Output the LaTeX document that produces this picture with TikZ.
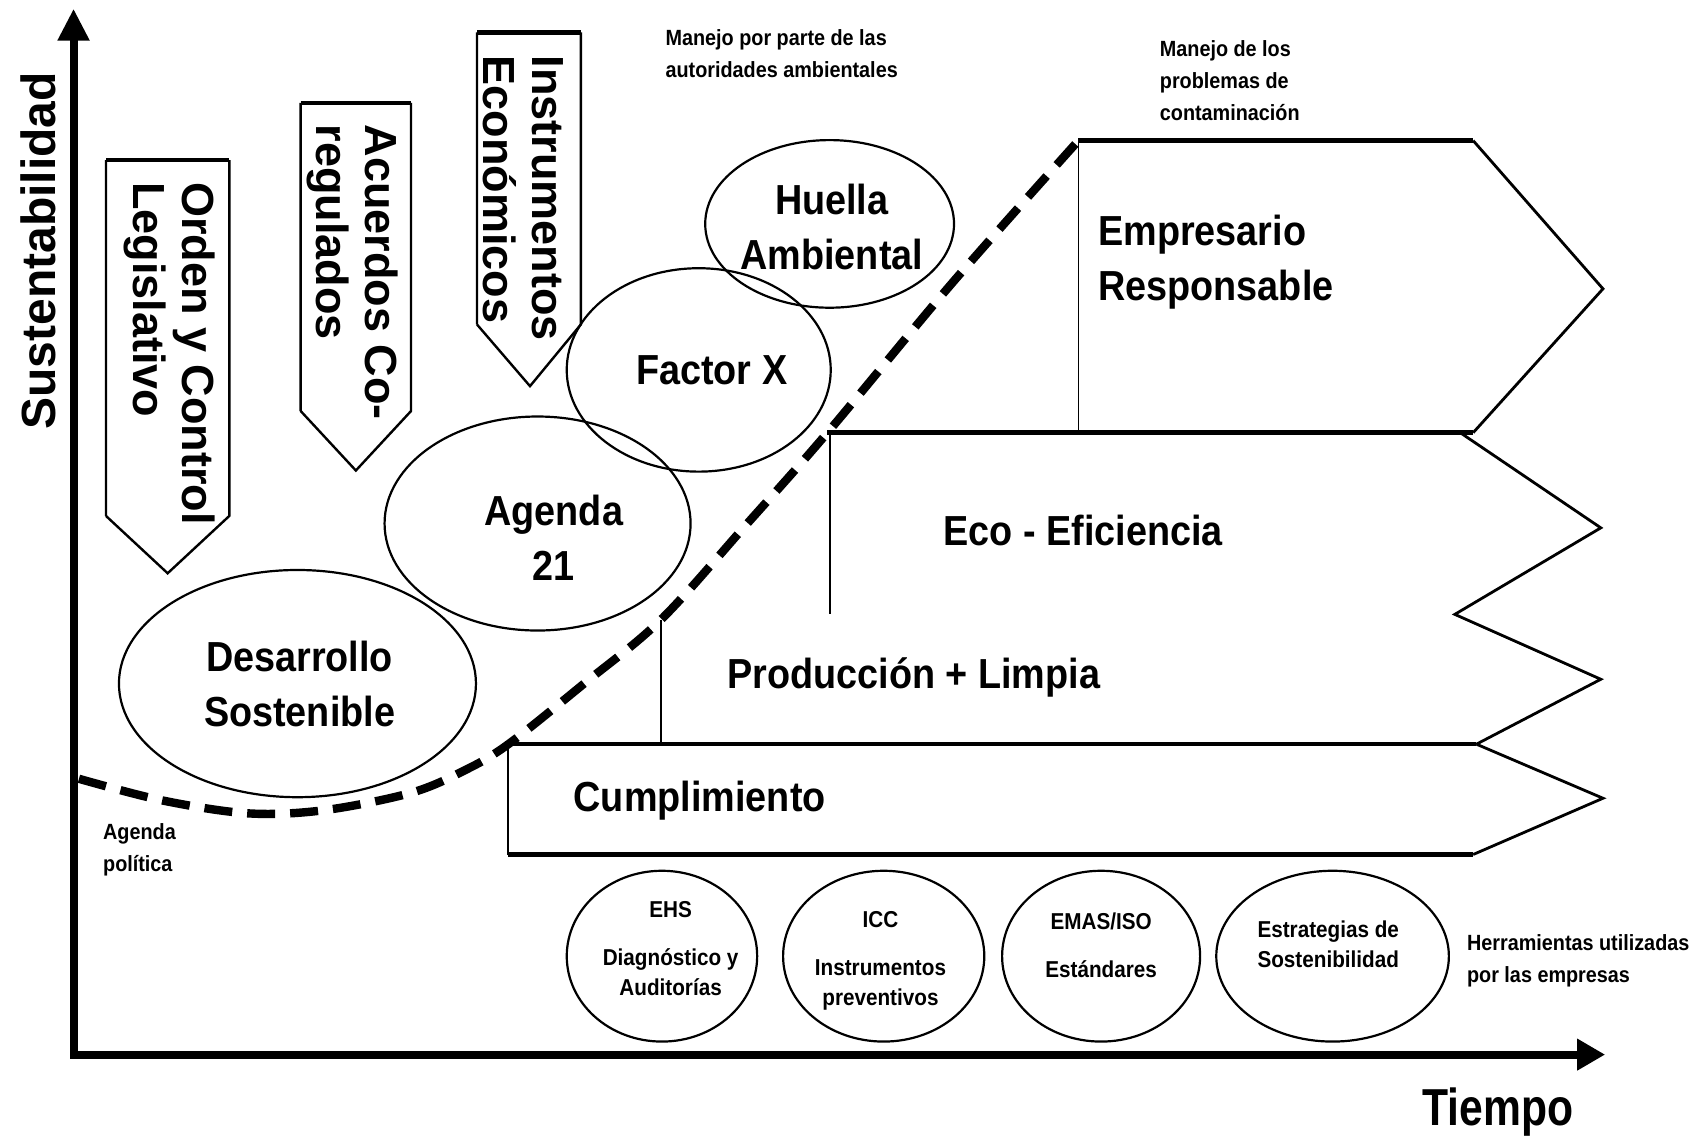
\documentclass[tikz,border=0pt]{standalone}
\usepackage{fontspec}
\setmainfont{Liberation Sans}[FakeStretch=0.9]
\newfontfamily\uprightfont{Liberation Sans}
\newfontfamily\narrowfont{Liberation Sans}[FakeStretch=0.82]
\usetikzlibrary{arrows.meta,shapes.geometric}
\begin{document}
\begin{tikzpicture}[x=0.5408pt, y=-0.5408pt, line join=miter,
  axis/.style={line width=4pt, {Triangle[length=16pt,width=15pt]}-{Triangle[length=14pt,width=15pt]}},
  bubble/.style={draw, ellipse, line width=1.1pt, inner sep=0pt},
  bigtext/.style={inner sep=0pt, align=center, font=\fontsize{21}{27.6}\selectfont\bfseries},
  bandtext/.style={bigtext, anchor=west, align=left},
  flagtext/.style={inner sep=0pt, rotate=-90, anchor=west, align=left, font=\uprightfont\fontsize{22.5}{24.3}\selectfont\bfseries},
  tooltext/.style={inner sep=0pt, align=center, font=\fontsize{11.5}{15}\selectfont\bfseries},
  smalltext/.style={inner sep=0pt, anchor=west, align=left, font=\fontsize{11}{16}\selectfont\bfseries},
  bandtop/.style={line width=2.2pt},
  bandtip/.style={line width=1.4pt},
  bandside/.style={line width=0.9pt},
  flag/.style={line width=1.2pt},
  policy/.style={line width=4.2pt, dash pattern=on 14pt off 7.5pt}]
\useasboundingbox (0,0) rectangle (1568,1051);

\coordinate (origin) at (68,975);
\coordinate (ytop) at (68,8);
\coordinate (xend) at (1484,975);
\draw[axis] (ytop) -- (origin) -- (xend);
\node[inner sep=0pt, rotate=90, font=\uprightfont\fontsize{24}{26}\selectfont\bfseries] (ylab) at (35,232) {Sustentabilidad};
\node[inner sep=0pt, font=\narrowfont\fontsize{26}{30}\selectfont\bfseries] (xlab) at (1385,1028) {Tiempo};

% banderas
\draw[flag] (98,477) -- (98,148) (212,148) -- (212,477) -- (155,530) -- (98,477);
\draw[bandtop] (98,148) -- (212,148);
\node[flagtext] (orden) at (157,168) {Orden y Control\\Legislativo};
\draw[flag] (278,380) -- (278,95) (380,95) -- (380,380) -- (329,435) -- (278,380);
\draw[bandtop] (278,95) -- (380,95);
\node[flagtext] (acuerdos) at (326,115) {Acuerdos Co-\\regulados};
\draw[flag] (441,300) -- (441,30) (537,30) -- (537,300) -- (490,357) -- (441,300);
\draw[bandtop] (441,30) -- (537,30);
\node[flagtext] (instrumentos) at (484,51) {Instrumentos\\Económicos};

% elipses
\node[bubble, minimum width=178.5pt, minimum height=113.6pt] (desarrollo) at (275,632) {};
\node[bigtext] (desarrollotxt) at (277,632) {Desarrollo\\Sostenible};
\node[bubble, minimum width=153pt, minimum height=107pt] (agenda) at (497,484) {};
\node[bigtext] (agendatxt) at (512,497) {Agenda\\21};
\node[bubble, minimum width=132pt, minimum height=101.7pt] (factor) at (646,342) {};
\node[bigtext] (factortxt) at (658,342) {Factor X};
\node[bubble, minimum width=124.4pt, minimum height=83.8pt] (huella) at (767,207) {};
\node[bigtext] (huellatxt) at (769,210) {Huella\\Ambiental};

% flechas
\draw[bandtop] (997,130) -- (1362,130);
\draw[bandtip] (1362,130) -- (1482,267) -- (1362,400);
\draw[bandside] (997,130) -- (997,400);
\draw[bandtop] (765,400) -- (1362,400);
\draw[bandtip] (1350,400) -- (1480,488) -- (1345,568) -- (1480,628) -- (1365,688);
\draw[bandside] (767,400) -- (767,568);
\draw[bandside] (611,573) -- (611,688);
\draw[bandtop] (470,688) -- (1365,688);
\draw[bandtip] (1365,688) -- (1482,738) -- (1362,790);
\draw[bandtop] (1362,790) -- (470,790);
\draw[bandside] (470,688) -- (470,790);
\node[bandtext] (empresario) at (1015,242) {Empresario\\Responsable};
\node[bandtext] (eco) at (872,490) {Eco - Eficiencia};
\node[bandtext] (produccion) at (672,626) {Producción + Limpia};
\node[bandtext] (cumplimiento) at (530,740) {Cumplimiento};

\draw[policy] plot[smooth, tension=0.55] coordinates {(73,720) (150,740) (230,752) (300,749) (380,733) (430,712) (470,688) (540,632) (611,573) (690,485) (765,400) (880,262) (997,130)};

% herramientas
\node[bubble, minimum width=95.2pt, minimum height=85.4pt] (ehs) at (612,884) {};
\node[tooltext] (ehstxt) at (620,877) {EHS\\[9pt]Diagnóstico y\\Auditorías};
\node[bubble, minimum width=100.6pt, minimum height=85.4pt] (icc) at (817,884) {};
\node[tooltext] (icctxt) at (814,888) {ICC\\[9pt]Instrumentos\\preventivos};
\node[bubble, minimum width=99pt, minimum height=85.4pt] (emas) at (1018,884) {};
\node[tooltext] (emastxt) at (1018,874) {EMAS/ISO\\[9pt]Estándares};
\node[bubble, minimum width=116.3pt, minimum height=85.4pt] (estrategias) at (1232,884) {};
\node[tooltext] (estrategiastxt) at (1228,873) {Estrategias de\\Sostenibilidad};

\node[smalltext] (autoridades) at (615,50) {Manejo por parte de las\\autoridades ambientales};
\node[smalltext] (contaminacion) at (1072,75) {Manejo de los\\problemas de\\contaminación};
\node[smalltext] (politica) at (95,786) {Agenda\\política};
\node[smalltext] (empresas) at (1356,888) {Herramientas utilizadas\\por las empresas};
\end{tikzpicture}
\end{document}
